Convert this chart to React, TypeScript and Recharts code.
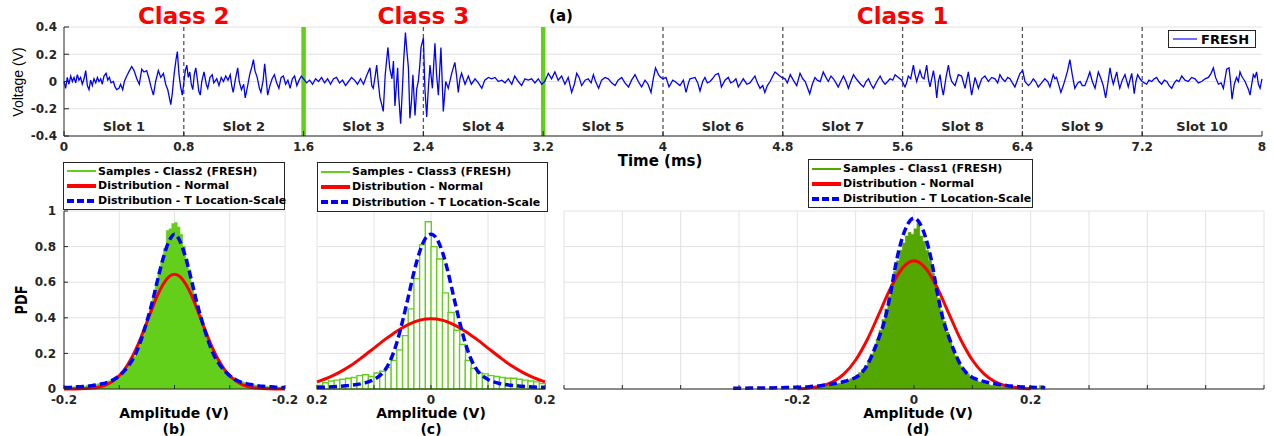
import React from 'react';
import {
  ComposedChart,
  LineChart,
  Line,
  Area,
  Bar,
  XAxis,
  YAxis,
  CartesianGrid,
  ReferenceLine,
  ReferenceArea,
  Legend,
} from 'recharts';

const FONT = '"DejaVu Sans", Verdana, sans-serif';
const INK = '#262626';
const GRID = '#e2e2e2';
const BLUE = '#0000ff';
const RED = '#ff0000';
const LIME = '#63cf1b';
const DARK_GREEN = '#54a600';

// ---------- (a) voltage trace ----------
const timeTicks = [0, 0.8, 1.6, 2.4, 3.2, 4, 4.8, 5.6, 6.4, 7.2, 8];
const voltTicks = [-0.4, -0.2, 0, 0.2, 0.4];
const slotNames = ['Slot 1', 'Slot 2', 'Slot 3', 'Slot 4', 'Slot 5', 'Slot 6', 'Slot 7', 'Slot 8', 'Slot 9', 'Slot 10'];
const slotEdges = [0, 0.8, 1.6, 2.4, 3.2, 4, 4.8, 5.6, 6.4, 7.2, 8];
const slotDividers = [0.8, 2.4, 4, 4.8, 5.6, 6.4, 7.2];
const classDividers = [1.6, 3.2];
const classNames = ['Class 2', 'Class 3', 'Class 1'];
const classSpans: [number, number][] = [[0, 1.6], [1.6, 3.2], [3.2, 8]];

// [ms, V]
const signalClass2: [number, number][] = [
  [0.0, 0.0], [0.011, -0.05], [0.022, 0.03], [0.033, -0.02], [0.045, 0.04], [0.056, 0.0], [0.067, 0.03], [0.078, -0.01],
  [0.089, 0.05], [0.1, 0.01], [0.111, 0.03], [0.122, -0.02], [0.134, 0.02], [0.145, 0.08], [0.156, -0.03], [0.167, -0.06],
  [0.178, 0.01], [0.189, -0.03], [0.2, 0.02], [0.212, -0.01], [0.223, 0.03], [0.234, 0.0], [0.245, 0.02], [0.256, -0.02],
  [0.267, 0.04], [0.281, 0.06], [0.292, 0.01], [0.303, 0.03], [0.314, -0.01], [0.33, 0.0], [0.341, -0.04], [0.352, -0.06],
  [0.367, -0.05], [0.378, -0.02], [0.392, -0.06], [0.403, 0.0], [0.419, 0.04], [0.437, 0.08], [0.452, 0.11], [0.468, 0.08],
  [0.486, 0.02], [0.503, -0.02], [0.519, 0.09], [0.534, 0.07], [0.552, 0.08], [0.568, 0.02], [0.581, -0.04], [0.597, -0.1],
  [0.612, 0.0], [0.63, 0.08], [0.646, 0.03], [0.664, 0.06], [0.679, -0.02], [0.693, -0.06], [0.704, -0.12], [0.713, -0.17],
  [0.724, -0.08], [0.735, 0.05], [0.748, 0.16], [0.757, 0.22], [0.768, 0.05], [0.779, -0.04], [0.79, -0.1], [0.801, 0.0],
  [0.81, 0.08], [0.82, 0.12], [0.83, 0.03], [0.84, 0.07], [0.85, -0.02], [0.86, -0.06], [0.87, 0.05], [0.88, 0.1],
  [0.89, 0.02], [0.9, -0.07], [0.91, -0.1], [0.92, 0.0], [0.935, 0.07], [0.95, -0.02], [0.96, -0.05], [0.975, 0.03],
  [0.99, 0.05], [1.0, -0.01], [1.02, 0.02], [1.035, -0.03], [1.05, 0.03], [1.065, 0.0], [1.08, 0.04], [1.095, 0.01],
  [1.11, 0.05], [1.12, -0.03], [1.13, -0.08], [1.145, 0.02], [1.16, 0.1], [1.17, 0.0], [1.185, -0.06], [1.2, -0.02],
  [1.21, -0.12], [1.225, -0.04], [1.24, 0.05], [1.255, 0.11], [1.265, 0.16], [1.275, 0.08], [1.29, 0.03], [1.305, -0.05],
  [1.315, -0.08], [1.33, 0.01], [1.34, 0.13], [1.35, 0.02], [1.36, -0.1], [1.375, -0.03], [1.39, 0.02], [1.405, 0.05],
  [1.42, -0.01], [1.435, -0.05], [1.45, 0.03], [1.465, 0.04], [1.48, -0.02], [1.495, 0.01], [1.51, -0.05], [1.525, 0.02],
  [1.54, 0.04], [1.555, -0.03], [1.57, 0.01], [1.585, 0.04], [1.6, 0.02],
];

const signalClass3: [number, number][] = [
  [1.62, -0.01], [1.64, 0.01], [1.66, -0.02], [1.68, 0.02], [1.7, 0.0], [1.72, 0.03], [1.74, -0.01], [1.76, 0.02],
  [1.78, -0.02], [1.8, 0.02], [1.82, 0.03], [1.84, -0.01], [1.86, 0.01], [1.88, -0.03], [1.9, 0.0], [1.92, 0.03],
  [1.94, 0.01], [1.96, -0.02], [1.98, 0.02], [2.0, -0.02], [2.02, 0.04], [2.043, 0.1], [2.055, -0.03], [2.065, -0.05],
  [2.078, 0.04], [2.088, 0.12], [2.1, -0.02], [2.11, -0.12], [2.122, -0.17], [2.132, -0.22], [2.145, 0.05], [2.163, 0.25],
  [2.175, 0.1], [2.19, 0.02], [2.2, 0.15], [2.21, -0.18], [2.228, 0.1], [2.235, -0.1], [2.248, -0.31], [2.26, -0.05],
  [2.268, 0.15], [2.28, 0.36], [2.29, 0.22], [2.3, 0.1], [2.31, -0.27], [2.32, -0.15], [2.33, 0.05], [2.344, -0.25],
  [2.356, -0.05], [2.366, 0.0], [2.376, 0.12], [2.384, 0.25], [2.4, 0.32],
  [2.41, -0.05], [2.422, -0.26], [2.433, -0.05], [2.444, 0.12], [2.46, -0.05], [2.477, 0.28], [2.488, 0.05], [2.5, -0.1],
  [2.517, 0.25], [2.533, -0.22], [2.549, 0.0], [2.566, -0.05], [2.589, 0.06], [2.61, 0.14], [2.622, 0.04], [2.633, -0.08],
  [2.644, 0.02], [2.655, 0.06], [2.678, -0.02], [2.7, 0.04], [2.72, -0.02], [2.745, 0.02], [2.767, -0.01], [2.79, -0.05],
  [2.81, 0.01], [2.834, 0.03], [2.856, 0.02], [2.878, 0.03], [2.9, 0.0], [2.923, 0.01], [2.945, -0.01], [2.967, 0.02],
  [2.99, -0.02], [3.01, 0.04], [3.034, 0.0], [3.056, -0.03], [3.078, 0.02], [3.1, 0.01], [3.123, 0.02], [3.145, -0.01],
  [3.167, 0.02], [3.19, -0.02],
];

const signalClass1: [number, number][] = [
  [3.21, 0.0], [3.234, 0.06], [3.256, 0.02], [3.278, 0.07], [3.3, 0.01], [3.323, 0.04], [3.345, -0.02], [3.367, 0.03],
  [3.39, -0.08], [3.408, -0.02], [3.424, 0.06], [3.44, 0.03], [3.457, -0.03], [3.48, 0.01], [3.5, 0.02], [3.52, -0.01],
  [3.535, 0.05], [3.55, 0.0], [3.57, -0.05], [3.59, 0.01], [3.613, 0.03], [3.635, 0.02], [3.657, -0.01], [3.68, -0.03],
  [3.7, 0.01], [3.724, 0.03], [3.746, -0.01], [3.77, -0.04], [3.79, 0.01], [3.813, 0.05], [3.835, 0.0], [3.857, -0.04],
  [3.88, 0.01], [3.9, -0.02], [3.92, -0.08], [3.935, 0.02], [3.95, 0.1], [3.97, 0.05], [3.985, 0.03], [4.0, 0.02],
  [4.02, 0.03], [4.04, -0.04], [4.065, 0.01], [4.08, 0.0], [4.113, -0.03], [4.136, 0.01], [4.154, -0.08], [4.17, -0.01],
  [4.18, 0.02], [4.214, 0.03], [4.232, -0.01], [4.247, -0.07], [4.265, 0.0], [4.28, 0.03], [4.296, -0.01], [4.314, 0.0],
  [4.33, 0.02], [4.35, 0.05], [4.37, 0.06], [4.38, 0.02], [4.39, -0.04], [4.414, 0.01], [4.436, 0.03], [4.452, -0.01],
  [4.47, 0.0], [4.487, 0.02], [4.503, -0.04], [4.52, -0.01], [4.536, 0.02], [4.56, -0.02], [4.58, -0.01], [4.6, 0.02],
  [4.614, 0.04], [4.63, -0.01], [4.648, -0.05], [4.666, -0.03], [4.68, -0.08], [4.697, -0.03], [4.715, 0.0], [4.733, 0.04],
  [4.748, 0.07], [4.77, 0.05], [4.793, 0.03],
  [4.815, 0.02], [4.83, -0.01], [4.85, 0.05], [4.87, 0.01], [4.893, -0.03], [4.915, 0.06], [4.933, 0.02], [4.95, 0.0],
  [4.963, -0.04], [4.98, -0.09], [4.997, -0.02], [5.015, 0.03], [5.03, 0.01], [5.05, 0.0], [5.07, 0.07], [5.088, 0.03],
  [5.104, 0.0], [5.122, 0.04], [5.138, 0.02], [5.155, -0.01], [5.17, -0.04], [5.187, 0.0], [5.205, 0.04], [5.222, 0.0],
  [5.238, -0.05], [5.254, 0.0], [5.272, 0.05], [5.29, 0.02], [5.305, 0.0], [5.32, -0.02], [5.339, -0.04], [5.356, 0.0],
  [5.372, 0.02], [5.388, -0.02], [5.405, -0.05], [5.428, 0.0], [5.45, 0.04], [5.468, 0.0], [5.483, -0.02], [5.5, 0.0],
  [5.516, 0.02], [5.534, 0.01], [5.55, 0.05], [5.572, 0.03], [5.594, 0.01],
  [5.616, -0.04], [5.627, -0.01], [5.638, 0.04], [5.654, 0.02], [5.672, 0.12], [5.683, 0.05], [5.694, 0.0], [5.716, 0.08],
  [5.73, 0.03], [5.743, 0.02], [5.761, 0.12], [5.772, 0.02], [5.783, -0.04], [5.806, 0.08], [5.817, 0.0], [5.828, -0.12],
  [5.839, 0.0], [5.85, 0.05], [5.861, -0.04], [5.872, -0.1], [5.89, 0.03], [5.906, 0.12], [5.917, 0.04], [5.928, 0.0],
  [5.95, -0.03], [5.972, 0.05], [5.994, 0.04], [6.017, -0.05], [6.039, 0.07], [6.061, -0.1], [6.084, 0.03], [6.106, -0.05],
  [6.128, 0.02], [6.15, 0.04], [6.173, 0.0], [6.195, 0.03], [6.217, 0.02], [6.235, -0.01], [6.25, 0.05], [6.266, 0.02],
  [6.284, 0.0], [6.302, 0.03], [6.317, 0.02], [6.333, -0.01], [6.35, -0.04], [6.37, 0.02], [6.384, 0.06], [6.402, 0.08],
  [6.417, 0.0], [6.44, -0.03], [6.457, -0.01], [6.473, 0.02], [6.488, 0.0], [6.506, -0.04], [6.528, -0.01], [6.55, 0.02],
  [6.569, 0.0], [6.584, -0.04], [6.606, 0.05], [6.617, 0.02], [6.628, 0.03], [6.644, -0.03], [6.657, -0.08], [6.673, -0.03],
  [6.684, 0.01], [6.702, 0.08], [6.717, 0.16], [6.733, 0.05], [6.75, -0.05], [6.77, -0.01], [6.785, 0.0], [6.8, -0.03],
  [6.817, -0.03], [6.835, 0.02], [6.85, 0.07], [6.867, 0.0], [6.885, -0.05], [6.907, 0.07], [6.925, 0.02], [6.94, -0.03],
  [6.956, -0.12], [6.97, -0.02], [6.985, 0.1], [6.996, 0.03], [7.007, -0.02], [7.03, 0.07], [7.04, 0.0], [7.05, -0.05],
  [7.067, 0.01], [7.085, 0.05], [7.107, -0.04], [7.13, 0.06], [7.147, -0.09], [7.158, 0.0], [7.17, 0.05], [7.185, 0.02],
  [7.2, 0.0], [7.214, -0.01], [7.23, -0.02], [7.245, 0.01], [7.263, 0.0], [7.281, 0.02], [7.297, 0.03], [7.312, 0.0],
  [7.33, -0.02], [7.348, 0.01], [7.364, 0.0], [7.38, -0.03], [7.397, -0.05], [7.415, -0.01], [7.43, 0.01], [7.446, 0.0],
  [7.464, 0.04], [7.486, 0.01], [7.508, 0.0], [7.53, 0.03], [7.553, 0.02], [7.575, -0.01], [7.597, 0.0], [7.62, 0.02],
  [7.642, 0.03], [7.66, 0.06], [7.675, 0.1], [7.69, 0.03], [7.709, -0.02], [7.727, -0.01], [7.742, -0.05], [7.753, 0.02],
  [7.764, 0.09], [7.78, 0.1], [7.79, 0.0], [7.8, -0.13], [7.815, -0.02], [7.83, 0.03], [7.842, 0.0], [7.853, 0.07],
  [7.864, 0.04], [7.875, 0.02], [7.887, 0.0], [7.898, -0.03], [7.91, -0.06], [7.92, -0.1], [7.93, -0.03], [7.942, 0.05],
  [7.953, 0.03], [7.964, 0.07], [7.976, -0.02], [7.987, -0.05], [8.0, 0.02],
];

const signalRows = [...signalClass2, ...signalClass3, ...signalClass1].map(([t, v]) => ({ t, v }));

// ---------- PDF panels ----------
const pdfYTicks = [0, 0.2, 0.4, 0.6, 0.8, 1];
const pdfXTicks = [-0.2, -0.1, 0, 0.1, 0.2];
const bXTickText = ['-0.2', '', '', '', '-0.2'];
const cXTickText = ['0.2', '', '0', '', '0.2'];
const dXTicks = [-0.6, -0.5, -0.4, -0.3, -0.2, -0.1, 0, 0.1, 0.2, 0.3, 0.4, 0.5, 0.6];
const dXTickText = ['', '', '', '', '-0.2', '', '0', '', '0.2', '', '', '', ''];

const curveX41 = [
  -0.2, -0.19, -0.18, -0.17, -0.16, -0.15, -0.14, -0.13, -0.12, -0.11, -0.1, -0.09, -0.08, -0.07, -0.06, -0.05, -0.04,
  -0.03, -0.02, -0.01, 0, 0.01, 0.02, 0.03, 0.04, 0.05, 0.06, 0.07, 0.08, 0.09, 0.1, 0.11, 0.12, 0.13, 0.14, 0.15, 0.16,
  0.17, 0.18, 0.19, 0.2,
];
const curveX21 = [-0.2, -0.18, -0.16, -0.14, -0.12, -0.1, -0.08, -0.06, -0.04, -0.02, 0, 0.02, 0.04, 0.06, 0.08, 0.1, 0.12, 0.14, 0.16, 0.18, 0.2];

// (b) Class 2 - 0.005 V bins from -0.2
const histClass2 = [
  0.012, 0.01, 0.013, 0.012, 0.015, 0.014, 0.017, 0.016, 0.02, 0.022, 0.024, 0.027, 0.03, 0.034, 0.037, 0.042, 0.047, 0.054,
  0.062, 0.071, 0.082, 0.095, 0.113, 0.133, 0.155, 0.183, 0.218, 0.258, 0.3, 0.35, 0.405, 0.462, 0.525, 0.595, 0.655, 0.715,
  0.79, 0.89, 0.9, 0.93, 0.935, 0.91, 0.87, 0.8, 0.73, 0.67, 0.6, 0.535, 0.47, 0.415, 0.36, 0.315, 0.27, 0.23, 0.195, 0.167,
  0.143, 0.122, 0.103, 0.088, 0.075, 0.064, 0.055, 0.047, 0.041, 0.036, 0.032, 0.028, 0.025, 0.022, 0.02, 0.018, 0.016,
  0.015, 0.013, 0.012, 0.012, 0.01, 0.011, 0.009,
];
const normalClass2 = [
  0.0001, 0.0003, 0.0006, 0.0012, 0.0025, 0.005, 0.009, 0.016, 0.028, 0.047, 0.074, 0.111, 0.161, 0.223, 0.295, 0.375, 0.456,
  0.531, 0.591, 0.631, 0.645, 0.631, 0.591, 0.531, 0.456, 0.375, 0.295, 0.223, 0.161, 0.111, 0.074, 0.047, 0.028, 0.016,
  0.009, 0.005, 0.0025, 0.0012, 0.0006, 0.0003, 0.0001,
];
const tlsClass2 = [
  0.008, 0.009, 0.011, 0.013, 0.015, 0.019, 0.024, 0.03, 0.039, 0.053, 0.074, 0.105, 0.145, 0.2, 0.28, 0.38, 0.49, 0.62,
  0.74, 0.83, 0.87, 0.83, 0.74, 0.62, 0.49, 0.38, 0.28, 0.2, 0.145, 0.105, 0.074, 0.053, 0.039, 0.03, 0.024, 0.019, 0.015,
  0.013, 0.011, 0.009, 0.008,
];

// (c) Class 3 - 0.01 V bins from -0.2
const histClass3 = [
  0.02, 0.035, 0.045, 0.05, 0.055, 0.06, 0.065, 0.075, 0.08, 0.07, 0.09, 0.1, 0.12, 0.16, 0.22, 0.3, 0.45, 0.62, 0.81, 0.94,
  0.8, 0.73, 0.54, 0.43, 0.33, 0.25, 0.16, 0.115, 0.09, 0.085, 0.075, 0.07, 0.065, 0.06, 0.06, 0.055, 0.05, 0.045, 0.04, 0.03,
];
const normalClass3 = [
  0.04, 0.064, 0.095, 0.133, 0.18, 0.23, 0.28, 0.325, 0.362, 0.387, 0.395, 0.387, 0.362, 0.325, 0.28, 0.23, 0.18, 0.133,
  0.095, 0.064, 0.04,
];
const tlsClass3 = [
  0.009, 0.01, 0.011, 0.013, 0.015, 0.018, 0.021, 0.025, 0.031, 0.04, 0.053, 0.075, 0.11, 0.17, 0.26, 0.38, 0.515, 0.655,
  0.77, 0.845, 0.87, 0.845, 0.77, 0.655, 0.515, 0.38, 0.26, 0.17, 0.11, 0.075, 0.053, 0.04, 0.031, 0.025, 0.021, 0.018,
  0.015, 0.013, 0.011, 0.01, 0.009,
];

// (d) Class 1 - 0.005 V bins from -0.175
const histClass1 = [
  0.008, 0.01, 0.012, 0.014, 0.016, 0.018, 0.021, 0.025, 0.028, 0.032, 0.037, 0.043, 0.05, 0.058, 0.067, 0.078, 0.092, 0.11,
  0.132, 0.16, 0.195, 0.235, 0.28, 0.33, 0.39, 0.45, 0.52, 0.59, 0.66, 0.72, 0.78, 0.82, 0.86, 0.88, 0.87,
  0.9, 0.93, 0.86, 0.83, 0.78, 0.72, 0.65, 0.58, 0.51, 0.44, 0.38, 0.32, 0.27, 0.225, 0.185, 0.152, 0.125, 0.102, 0.085,
  0.07, 0.058, 0.048, 0.04, 0.034, 0.029, 0.025, 0.021, 0.018, 0.016, 0.014, 0.012, 0.011, 0.01, 0.009, 0.008, 0.007,
  0.006, 0.006, 0.005, 0.005, 0.004, 0.004, 0.003, 0.02, 0.02,
];
const normalClass1 = [
  0.002, 0.006, 0.016, 0.039, 0.085, 0.163, 0.278, 0.422, 0.568, 0.678, 0.72, 0.678, 0.568, 0.422, 0.278, 0.163, 0.085,
  0.039, 0.016, 0.006, 0.002,
];
const tlsClass1X = [
  -0.31, -0.28, -0.25, -0.22, -0.2, -0.19, -0.18, -0.17, -0.16, -0.15, -0.14, -0.13, -0.12, -0.11, -0.1, -0.09, -0.08,
  -0.07, -0.06, -0.05, -0.04, -0.03, -0.02, -0.01, 0, 0.01, 0.02, 0.03, 0.04, 0.05, 0.06, 0.07, 0.08, 0.09, 0.1, 0.11, 0.12,
  0.13, 0.14, 0.15, 0.16, 0.17, 0.18, 0.19, 0.2, 0.225,
];
const tlsClass1 = [
  0.004, 0.005, 0.006, 0.008, 0.01, 0.011, 0.013, 0.016, 0.019, 0.023, 0.028, 0.034, 0.042, 0.052, 0.065, 0.09, 0.135,
  0.205, 0.29, 0.39, 0.54, 0.72, 0.85, 0.93, 0.96, 0.93, 0.85, 0.72, 0.54, 0.39, 0.29, 0.205, 0.135, 0.09, 0.065, 0.052,
  0.042, 0.034, 0.028, 0.023, 0.019, 0.016, 0.013, 0.011, 0.01, 0.007,
];

const curveRows = (xs: number[], ys: number[], key: string) => xs.map((x, i) => ({ x, [key]: ys[i] }));
const binRows = (start: number, width: number, hs: number[]) =>
  hs.map((h, i) => ({ x: +(start + width * (i + 0.5)).toFixed(4), bin: i, hist: h }));

const tickFont = { fill: INK, fontSize: 12, fontWeight: 700, fontFamily: FONT };
const seriesOrder = ['hist', 'normal', 'tls'];

function PdfLegend({ payload, histColor }: any) {
  const rows = [...(payload ?? [])].sort(
    (a: any, b: any) => seriesOrder.indexOf(a.dataKey) - seriesOrder.indexOf(b.dataKey),
  );
  const look: Record<string, { c: string; w: number; dash?: string }> = {
    hist: { c: histColor, w: 2 },
    normal: { c: RED, w: 4 },
    tls: { c: BLUE, w: 4, dash: '7 3' },
  };
  return (
    <div
      style={{
        border: `1px solid ${INK}`, background: '#fff', height: '100%', boxSizing: 'border-box',
        display: 'flex', flexDirection: 'column', justifyContent: 'space-around', padding: '1px 2px',
      }}
    >
      {rows.map((r: any) => {
        const s = look[r.dataKey] ?? { c: r.color, w: 2 };
        return (
          <div key={r.dataKey} style={{ display: 'flex', alignItems: 'center', lineHeight: 1 }}>
            <svg width={31} height={8} style={{ flex: 'none' }}>
              <line x1={1} x2={30} y1={4} y2={4} stroke={s.c} strokeWidth={s.w} strokeDasharray={s.dash} />
            </svg>
            <span style={{ fontFamily: FONT, fontSize: 11, fontWeight: 700, color: '#000', marginLeft: 1, whiteSpace: 'nowrap' }}>
              {r.value}
            </span>
          </div>
        );
      })}
    </div>
  );
}

type PanelProps = {
  left: number;
  width: number;
  plotLeft: number;
  plotRight: number;
  xDomain: [number, number];
  xTicks: number[];
  xTickText: string[];
  showYLabels: boolean;
  histColor: string;
  histName: string;
  histArea?: { x: number; hist: number }[];
  histBars?: { bin: number; hist: number }[];
  normalRows: any[];
  tlsRows: any[];
  legendBox: { left: number; top: number; width: number; height: number };
};

function PdfPanel(p: PanelProps) {
  const yWidth = p.showYLabels ? 56 : 0;
  return (
    <div style={{ position: 'absolute', left: p.left, top: 150 }}>
      <ComposedChart
        width={p.width}
        height={286}
        data={p.histBars}
        barCategoryGap={0}
        barGap={0}
        margin={{ top: 61, bottom: 25, left: p.plotLeft - p.left - yWidth, right: p.left + p.width - p.plotRight }}
      >
        <CartesianGrid xAxisId="v" yAxisId="l" stroke={GRID} />
        {p.histBars && <XAxis xAxisId="bins" dataKey="bin" type="category" hide height={0} />}
        <XAxis
          xAxisId="v" dataKey="x" type="number" domain={p.xDomain} ticks={p.xTicks} interval={0} height={22}
          tickFormatter={(_: number, i: number) => p.xTickText[i]} tick={tickFont} tickSize={-4} tickMargin={10}
          axisLine={{ stroke: INK }} tickLine={{ stroke: INK }}
        />
        <XAxis
          xAxisId="top" orientation="top" type="number" domain={p.xDomain} ticks={p.xTicks} interval={0} height={0}
          tickFormatter={() => ''} tickSize={-4} axisLine={{ stroke: INK }} tickLine={{ stroke: INK }}
        />
        <YAxis
          yAxisId="l" type="number" domain={[0, 1]} ticks={pdfYTicks} interval={0} width={yWidth}
          tickFormatter={(v: number) => (p.showYLabels ? String(v) : '')} tick={tickFont} tickSize={-4} tickMargin={12}
          axisLine={{ stroke: INK }} tickLine={{ stroke: INK }}
        />
        <YAxis
          yAxisId="r" orientation="right" type="number" domain={[0, 1]} ticks={pdfYTicks} interval={0} width={0}
          tickFormatter={() => ''} tickSize={-4} axisLine={{ stroke: INK }} tickLine={{ stroke: INK }}
        />
        {p.histArea && (
          <Area
            xAxisId="v" yAxisId="l" data={p.histArea} dataKey="hist" name={p.histName} type="step"
            fill={p.histColor} fillOpacity={1} stroke={p.histColor} strokeWidth={0.5} isAnimationActive={false}
          />
        )}
        {p.histBars && (
          <Bar
            xAxisId="bins" yAxisId="l" dataKey="hist" name={p.histName} fill="#ffffff" stroke={p.histColor}
            strokeWidth={1.4} isAnimationActive={false}
          />
        )}
        <Line
          xAxisId="v" yAxisId="l" data={p.normalRows} dataKey="normal" name="Distribution - Normal" type="monotone"
          stroke={RED} strokeWidth={3} dot={false} isAnimationActive={false}
        />
        <Line
          xAxisId="v" yAxisId="l" data={p.tlsRows} dataKey="tls" name="Distribution - T Location-Scale" type="monotone"
          stroke={BLUE} strokeWidth={3.5} strokeDasharray="8 4" dot={false} isAnimationActive={false}
        />
        <Legend
          layout="vertical" align="center" verticalAlign="middle"
          wrapperStyle={{ ...p.legendBox, position: 'absolute' }}
          content={(lp: any) => <PdfLegend {...lp} histColor={p.histColor} />}
        />
      </ComposedChart>
    </div>
  );
}

function Caption({ x, y, text, size, weight = 700, rotate = false, squeeze = 1, family = FONT }: any) {
  return (
    <div
      style={{
        position: 'absolute', left: x, top: y, whiteSpace: 'nowrap', lineHeight: 1, color: '#000',
        fontFamily: family, fontSize: size, fontWeight: weight,
        transform: `translate(-50%, -50%)${rotate ? ' rotate(-90deg)' : ''} scaleX(${squeeze})`,
      }}
    >
      {text}
    </div>
  );
}

function TraceLegend({ payload }: any) {
  return (
    <div
      style={{
        border: `1px solid ${INK}`, background: '#fff', height: '100%', boxSizing: 'border-box',
        display: 'flex', alignItems: 'center', padding: '0 3px',
      }}
    >
      {(payload ?? []).map((r: any) => (
        <React.Fragment key={r.value}>
          <svg width={26} height={6}>
            <line x1={1} x2={25} y1={3} y2={3} stroke="#6f6fff" strokeWidth={2} />
          </svg>
          <span style={{ fontFamily: FONT, fontSize: 13, fontWeight: 700, color: '#000', marginLeft: 3 }}>{r.value}</span>
        </React.Fragment>
      ))}
    </div>
  );
}

export default function App() {
  return (
    <div style={{ position: 'fixed', left: 0, top: 0, width: 1274, height: 436, background: '#fff', overflow: 'hidden' }}>
      <div style={{ position: 'absolute', left: 0, top: 0 }}>
        <LineChart width={1274} height={170} data={signalRows} margin={{ top: 27, right: 12, bottom: 13, left: 8 }}>
          <CartesianGrid xAxisId="t" yAxisId="l" vertical={false} stroke={GRID} />
          <XAxis
            xAxisId="t" dataKey="t" type="number" domain={[0, 8]} ticks={timeTicks} interval={0} height={21}
            tick={tickFont} tickSize={-5} tickMargin={11} axisLine={{ stroke: INK }} tickLine={{ stroke: INK }}
          />
          <XAxis
            xAxisId="tt" orientation="top" type="number" domain={[0, 8]} ticks={timeTicks} interval={0} height={0}
            tickFormatter={() => ''} tickSize={-5} axisLine={{ stroke: INK }} tickLine={{ stroke: INK }}
          />
          <YAxis
            yAxisId="l" type="number" domain={[-0.4, 0.4]} ticks={voltTicks} interval={0} width={56}
            tick={tickFont} tickSize={-5} tickMargin={12} axisLine={{ stroke: INK }} tickLine={{ stroke: INK }}
          />
          <YAxis
            yAxisId="r" orientation="right" type="number" domain={[-0.4, 0.4]} ticks={voltTicks} interval={0} width={0}
            tickFormatter={() => ''} tickSize={-5} axisLine={{ stroke: INK }} tickLine={{ stroke: INK }}
          />
          {slotNames.map((name, i) => (
            <ReferenceArea
              key={name} xAxisId="t" yAxisId="l" x1={slotEdges[i]} x2={slotEdges[i + 1]} y1={-0.4} y2={0.4}
              fillOpacity={0} strokeOpacity={0}
              label={{ value: name, position: 'insideBottom', offset: 5, fill: INK, fontSize: 13, fontWeight: 700, fontFamily: FONT }}
            />
          ))}
          {classNames.map((name, i) => (
            <ReferenceArea
              key={name} xAxisId="t" yAxisId="l" x1={classSpans[i][0]} x2={classSpans[i][1]} y1={-0.4} y2={0.4}
              fillOpacity={0} strokeOpacity={0}
              label={{ value: name, position: 'top', offset: 3, fill: RED, fontSize: 23, fontWeight: 700, fontFamily: FONT }}
            />
          ))}
          {slotDividers.map((x) => (
            <ReferenceLine key={x} xAxisId="t" yAxisId="l" x={x} stroke="#555" strokeWidth={1.3} strokeDasharray="4 3" />
          ))}
          {classDividers.map((x) => (
            <ReferenceLine key={x} xAxisId="t" yAxisId="l" x={x} stroke={LIME} strokeWidth={4.5} />
          ))}
          <Line
            xAxisId="t" yAxisId="l" dataKey="v" name="FRESH" type="linear" stroke={BLUE} strokeWidth={1.3}
            dot={false} isAnimationActive={false}
          />
          <Legend
            layout="vertical" align="center" verticalAlign="middle"
            wrapperStyle={{ position: 'absolute', left: 1168, top: 30, width: 88, height: 18 }}
            content={(lp: any) => <TraceLegend {...lp} />}
          />
        </LineChart>
      </div>

      <PdfPanel
        left={0} width={300} plotLeft={64} plotRight={285} xDomain={[-0.2, 0.2]} xTicks={pdfXTicks} xTickText={bXTickText}
        showYLabels histColor={LIME} histName="Samples - Class2 (FRESH)"
        histArea={binRows(-0.2, 0.005, histClass2)}
        normalRows={curveRows(curveX41, normalClass2, 'normal')}
        tlsRows={curveRows(curveX41, tlsClass2, 'tls')}
        legendBox={{ left: 63, top: 12, width: 222, height: 48 }}
      />
      <PdfPanel
        left={300} width={260} plotLeft={317} plotRight={545} xDomain={[-0.2, 0.2]} xTicks={pdfXTicks} xTickText={cXTickText}
        showYLabels={false} histColor={LIME} histName="Samples - Class3 (FRESH)"
        histBars={binRows(-0.2, 0.01, histClass3)}
        normalRows={curveRows(curveX21, normalClass3, 'normal')}
        tlsRows={curveRows(curveX41, tlsClass3, 'tls')}
        legendBox={{ left: 17, top: 12, width: 231, height: 50 }}
      />
      <PdfPanel
        left={555} width={719} plotLeft={564} plotRight={1264} xDomain={[-0.6, 0.6]} xTicks={dXTicks} xTickText={dXTickText}
        showYLabels={false} histColor={DARK_GREEN} histName="Samples - Class1 (FRESH)"
        histArea={binRows(-0.175, 0.005, histClass1)}
        normalRows={curveRows(curveX21, normalClass1, 'normal')}
        tlsRows={curveRows(tlsClass1X, tlsClass1, 'tls')}
        legendBox={{ left: 253, top: 9, width: 225, height: 49 }}
      />

      <Caption x={561} y={16} text="(a)" size={15} />
      <Caption x={18} y={82} text="Voltage (V)" size={14} weight={400} rotate family='"Liberation Sans", Arial, sans-serif' />
      <Caption x={660} y={161} text="Time (ms)" size={15} />
      <Caption x={22} y={300} text="PDF" size={16} rotate squeeze={0.8} />
      <Caption x={174} y={413} text="Amplitude (V)" size={14} />
      <Caption x={431} y={413} text="Amplitude (V)" size={14} />
      <Caption x={918} y={413} text="Amplitude (V)" size={14} />
      <Caption x={174} y={428.5} text="(b)" size={14} />
      <Caption x={431} y={428.5} text="(c)" size={14} />
      <Caption x={918} y={428.5} text="(d)" size={14} />
    </div>
  );
}
